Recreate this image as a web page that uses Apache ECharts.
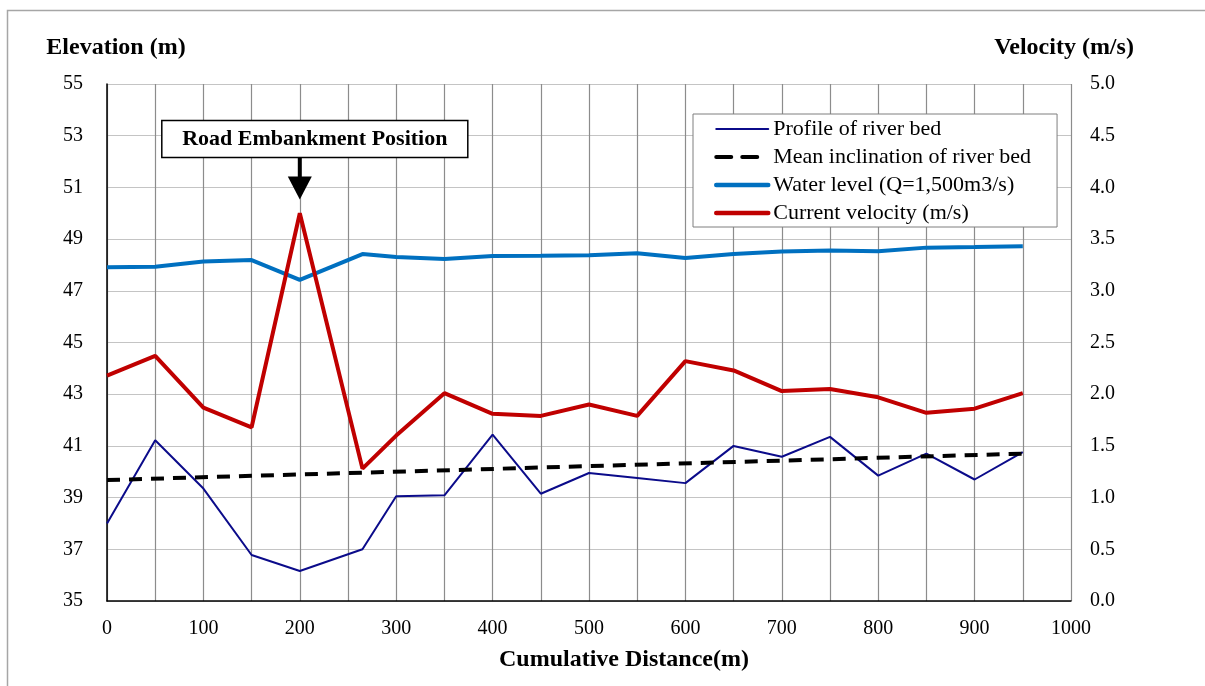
<!DOCTYPE html>
<html>
<head>
<meta charset="utf-8">
<script src="https://cdn.jsdelivr.net/npm/echarts@6/dist/echarts.min.js"></script>
<style>
html,body{margin:0;padding:0;background:#fff;}
#chart{width:1205px;height:686px;}
</style>
</head>
<body>
<div id="chart"></div>
<script>
// ---- data ----
const distance = [0, 50, 100, 150, 200, 265, 300, 350, 400, 450, 500, 550, 600, 650, 700, 750, 800, 850, 900, 950];
const riverBed = [38.0, 41.22, 39.35, 36.78, 36.16, 37.0, 39.05, 39.09, 41.44, 39.15, 39.95, 39.76, 39.56, 41.0, 40.58, 41.35, 39.85, 40.7, 39.7, 40.76];
const waterLevel = [47.91, 47.93, 48.13, 48.19, 47.42, 48.42, 48.31, 48.23, 48.35, 48.36, 48.38, 48.45, 48.27, 48.42, 48.52, 48.56, 48.53, 48.67, 48.69, 48.72];
const velocity = [2.18, 2.37, 1.87, 1.68, 3.75, 1.28, 1.6, 2.01, 1.81, 1.79, 1.9, 1.79, 2.32, 2.23, 2.03, 2.05, 1.97, 1.82, 1.86, 2.01];
const meanDistance = [0, 950];
const meanBed = [39.68, 40.7];
const seriesNames = ['Profile of river bed', 'Mean inclination of river bed', 'Water level (Q=1,500m3/s)', 'Current velocity (m/s)'];
const annotationText = 'Road Embankment Position';
const annotationAt = [200, 49.95];

const pair = (xs, ys) => xs.map((x, i) => [x, ys[i]]);
const FONT = 'Liberation Serif';
const colors = ['#0b0b8a', '#000000', '#0070c0', '#c00000'];
const widths = [2, 4, 4.5, 4.5];

const chart = echarts.init(document.getElementById('chart'));
chart.setOption({
  backgroundColor: '#fff',
  animation: false,
  grid: { left: 107, right: 134, top: 84, bottom: 85 },
  legend: {
    orient: 'vertical',
    left: 693, top: 114,
    padding: [4, 26, 3, 21],
    borderColor: '#7f7f7f', borderWidth: 1,
    backgroundColor: '#fff',
    itemWidth: 52, itemHeight: 14, itemGap: 6,
    itemStyle: { opacity: 0, borderWidth: 0 },
    textStyle: { fontFamily: FONT, fontSize: 22, color: '#000', lineHeight: 22 },
    data: seriesNames.map((n, i) => ({
      name: n,
      lineStyle: { color: colors[i], width: widths[i], type: i === 1 ? [15, 11] : 'solid', cap: 'round' }
    }))
  },
  xAxis: {
    type: 'value', min: 0, max: 1000, interval: 50,
    name: 'Cumulative Distance(m)', nameLocation: 'middle', nameGap: 47,
    nameTextStyle: { fontFamily: FONT, fontSize: 24, fontWeight: 'bold', color: '#000', padding: [0, 0, 0, 70] },
    axisLine: { show: true, onZero: false, lineStyle: { color: '#000', width: 1.5 } },
    axisTick: { show: false },
    axisLabel: { fontFamily: FONT, fontSize: 20, color: '#000', margin: 18,
      formatter: v => (v % 100 === 0 ? String(v) : '') },
    splitLine: { show: true, lineStyle: { color: '#8c8c8c', width: 1.2 } }
  },
  yAxis: [
    {
      type: 'value', min: 35, max: 55, interval: 2,
      name: 'Elevation (m)', nameLocation: 'end', nameGap: 24,
      nameTextStyle: { fontFamily: FONT, fontSize: 24, fontWeight: 'bold', color: '#000', align: 'center', padding: [0, 0, 0, 18] },
      axisLine: { show: true, lineStyle: { color: '#000', width: 1.5 } },
      axisTick: { show: false },
      axisLabel: { fontFamily: FONT, fontSize: 20, color: '#000', margin: 24 },
      splitLine: { show: true, lineStyle: { color: '#c4c4c4', width: 1.2 } }
    },
    {
      type: 'value', min: 0, max: 5, interval: 0.5, position: 'right',
      name: 'Velocity (m/s)', nameLocation: 'end', nameGap: 24,
      nameTextStyle: { fontFamily: FONT, fontSize: 24, fontWeight: 'bold', color: '#000', align: 'center', padding: [0, 14, 0, 0] },
      axisLine: { show: false },
      axisTick: { show: false },
      axisLabel: { fontFamily: FONT, fontSize: 20, color: '#000', margin: 19, formatter: v => v.toFixed(1) },
      splitLine: { show: false }
    }
  ],
  series: [
    { name: seriesNames[0], type: 'line', yAxisIndex: 0, symbol: 'none', data: pair(distance, riverBed),
      lineStyle: { color: colors[0], width: widths[0] }, itemStyle: { color: colors[0] } },
    { name: seriesNames[1], type: 'line', yAxisIndex: 0, symbol: 'none', data: pair(meanDistance, meanBed),
      lineStyle: { color: colors[1], width: 4, type: [13, 9] }, itemStyle: { color: colors[1] } },
    { name: seriesNames[2], type: 'line', yAxisIndex: 0, symbol: 'none', data: pair(distance, waterLevel),
      lineStyle: { color: colors[2], width: 4 }, itemStyle: { color: colors[2] } },
    { name: seriesNames[3], type: 'line', yAxisIndex: 1, symbol: 'none', data: pair(distance, velocity),
      lineStyle: { color: colors[3], width: 4 }, itemStyle: { color: colors[3] } }
  ]
});

// annotation anchored to data coordinates
const tip = chart.convertToPixel({ xAxisIndex: 0, yAxisIndex: 0 }, annotationAt);
const ax = tip[0], tipY = tip[1] - 15;
const boxW = 306, boxH = 37;
const boxLeft = ax - 138, boxTop = tipY - 79;
chart.setOption({
  graphic: [
    { type: 'rect', z: 100, silent: true, shape: { x: 7.5, y: 10.5, width: 1300, height: 800 },
      style: { fill: 'none', stroke: '#a6a6a6', lineWidth: 1.5 } },
    { type: 'rect', z: 100, shape: { x: boxLeft, y: boxTop, width: boxW, height: boxH },
      style: { fill: '#fff', stroke: '#000', lineWidth: 1.5 } },
    { type: 'text', z: 101, x: boxLeft + boxW / 2, y: boxTop + boxH / 2,
      style: { text: annotationText, fontFamily: FONT, fontSize: 22, fontWeight: 'bold', fill: '#000', align: 'center', verticalAlign: 'middle' } },
    { type: 'rect', z: 100, shape: { x: ax - 2, y: boxTop + boxH, width: 4, height: 20 }, style: { fill: '#000' } },
    { type: 'polygon', z: 100, shape: { points: [[ax - 12, tipY - 23], [ax + 12, tipY - 23], [ax, tipY]] }, style: { fill: '#000' } }
  ]
});
</script>
</body>
</html>
